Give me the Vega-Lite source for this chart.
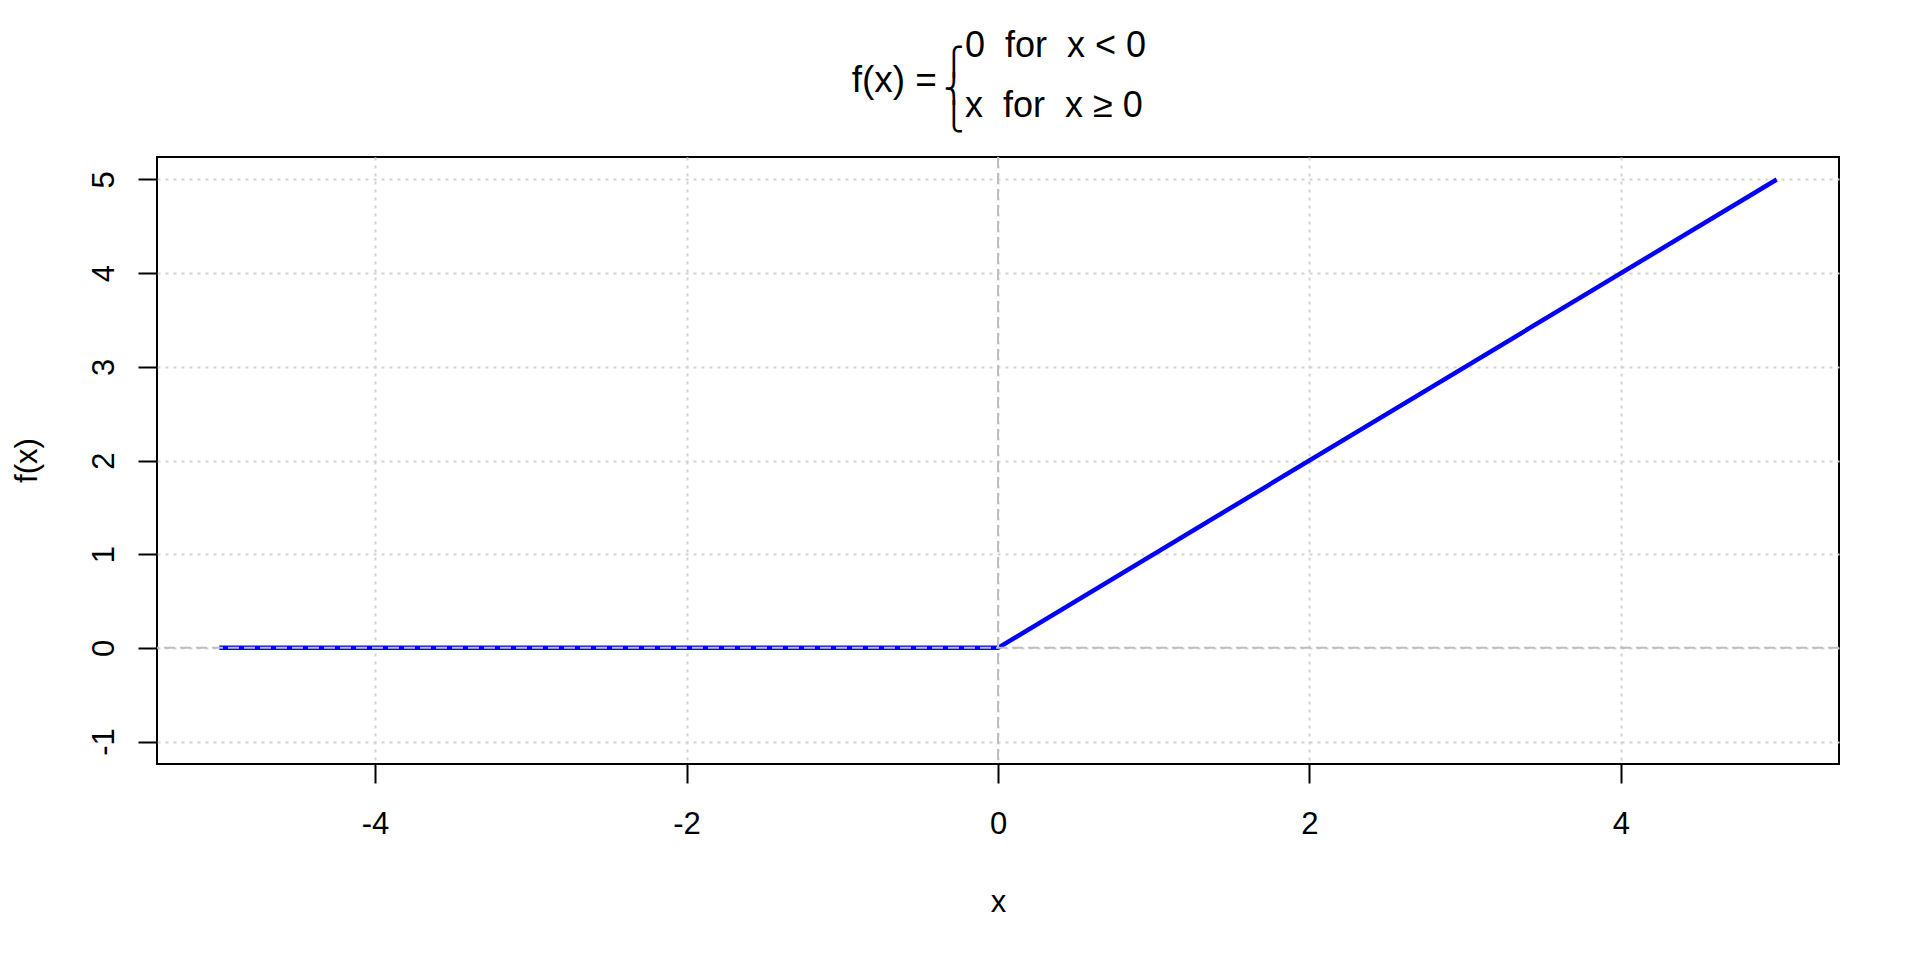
{
  "$schema": "https://vega.github.io/schema/vega-lite/v6.json",
  "width": 1682,
  "height": 607,
  "autosize": "none",
  "padding": {"left": 157, "top": 157, "right": 81, "bottom": 196},
  "background": "white",
  "config": {
    "font": "Liberation Sans",
    "view": {"stroke": "black", "strokeWidth": 2},
    "axis": {
      "domain": false,
      "tickColor": "black",
      "tickWidth": 2,
      "tickSize": 19,
      "labelColor": "black",
      "labelFontSize": 31,
      "labelFont": "Liberation Sans",
      "titleFont": "Liberation Sans",
      "titleFontSize": 31,
      "titleFontWeight": "normal",
      "titleColor": "black",
      "gridColor": "#d3d3d3",
      "gridDash": [3, 5],
      "gridWidth": 2,
      "gridOpacity": 1
    }
  },
  "datasets": {
    "relu": [
      {"x": -5, "y": 0},
      {"x": 0, "y": 0},
      {"x": 5, "y": 5}
    ]
  },
  "layer": [
    {
      "data": {"name": "relu"},
      "mark": {"type": "line", "color": "#0000ff", "strokeWidth": 4.5},
      "encoding": {
        "x": {
          "field": "x",
          "type": "quantitative",
          "scale": {"domain": [-5.4, 5.4], "nice": false, "zero": false},
          "axis": {
            "values": [-4, -2, 0, 2, 4],
            "labelExpr": "'' + datum.value",
            "title": "x",
            "labelPadding": 26,
            "labelFlush": false,
            "titleY": 147,
            "titleBaseline": "alphabetic"
          }
        },
        "y": {
          "field": "y",
          "type": "quantitative",
          "scale": {"domain": [-1.24, 5.24], "nice": false, "zero": false},
          "axis": {
            "values": [-1, 0, 1, 2, 3, 4, 5],
            "labelExpr": "'' + datum.value",
            "title": "f(x)",
            "labelAngle": -90,
            "labelAlign": "center",
            "labelBaseline": "alphabetic",
            "labelPadding": 25,
            "labelFlush": false,
            "titleX": -130,
            "titleY": 303,
            "titleAngle": -90,
            "titleAlign": "center",
            "titleBaseline": "middle"
          }
        }
      }
    },
    {
      "data": {"values": [{}]},
      "mark": {"type": "rule", "color": "#bebebe", "strokeWidth": 2, "strokeDash": [11, 5]},
      "encoding": {"x": {"datum": 0}}
    },
    {
      "data": {"values": [{}]},
      "mark": {"type": "rule", "color": "#bebebe", "strokeWidth": 2, "strokeDash": [11, 5]},
      "encoding": {"y": {"datum": 0}}
    },
    {
      "data": {"values": [{"label": "f(x)\u00a0="}]},
      "mark": {"type": "text", "font": "Liberation Sans", "fontSize": 37, "align": "right", "baseline": "middle", "color": "black"},
      "encoding": {
        "x": {"datum": -0.392},
        "y": {"datum": 6.05},
        "text": {"field": "label"}
      }
    },
    {
      "data": {"values": [{"label": ["⎧", "⎨", "⎩"]}]},
      "mark": {"type": "text", "font": "DejaVu Sans", "fontSize": 27.5, "lineHeight": 27.5, "align": "center", "baseline": "middle", "color": "black"},
      "encoding": {
        "x": {"datum": -0.283},
        "y": {"datum": 6.244},
        "text": {"field": "label"}
      }
    },
    {
      "data": {"values": [{"label": "0\u00a0\u00a0for\u00a0\u00a0x\u00a0<\u00a00"}]},
      "mark": {"type": "text", "font": "Liberation Sans", "fontSize": 36, "align": "left", "baseline": "alphabetic", "color": "black"},
      "encoding": {
        "x": {"datum": -0.212},
        "y": {"datum": 6.308},
        "text": {"field": "label"}
      }
    },
    {
      "data": {"values": [{"label": "x\u00a0\u00a0for\u00a0\u00a0x\u00a0≥\u00a00"}]},
      "mark": {"type": "text", "font": "Liberation Sans", "fontSize": 36, "align": "left", "baseline": "alphabetic", "color": "black"},
      "encoding": {
        "x": {"datum": -0.212},
        "y": {"datum": 5.667},
        "text": {"field": "label"}
      }
    }
  ]
}
